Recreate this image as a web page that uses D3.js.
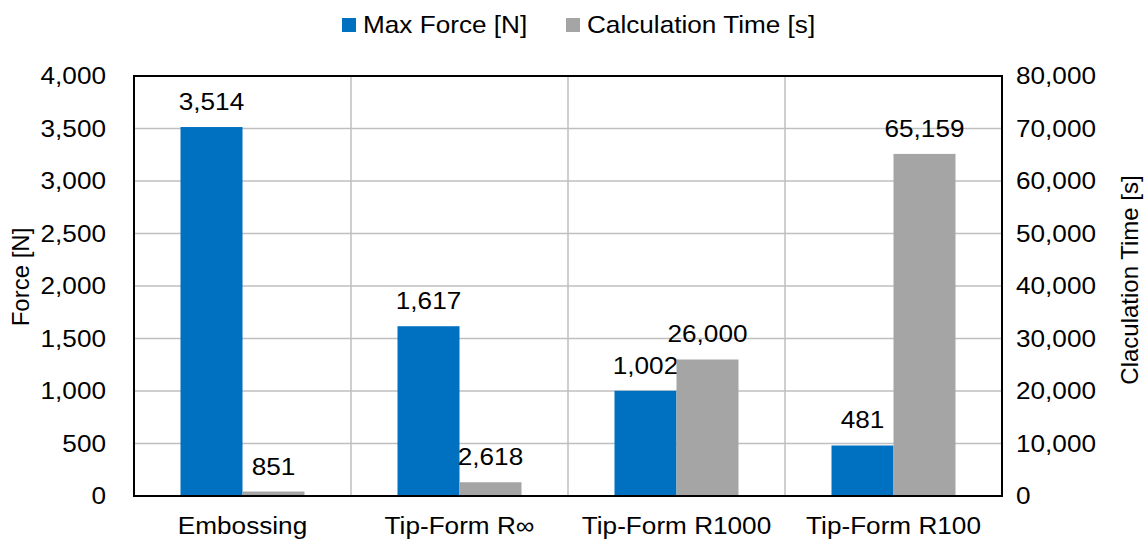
<!DOCTYPE html>
<html><head><meta charset="utf-8">
<script src="https://cdn.jsdelivr.net/npm/d3@7"></script>
<style>
html,body{margin:0;padding:0;background:#fff;}
text{font-family:"Liberation Sans",Arial,sans-serif;fill:#000;}
</style></head>
<body>
<svg id="chart" width="1148" height="543"></svg>
<script>
const categories = ["Embossing", "Tip-Form R\u221E", "Tip-Form R1000", "Tip-Form R100"];
const seriesNames = ["Max Force [N]", "Calculation Time [s]"];
const maxForce = [3514, 1617, 1002, 481];
const calcTime = [851, 2618, 26000, 65159];
const leftTicks = [0, 500, 1000, 1500, 2000, 2500, 3000, 3500, 4000];
const rightTicks = [0, 10000, 20000, 30000, 40000, 50000, 60000, 70000, 80000];
const leftTitle = "Force [N]";
const rightTitle = "Claculation Time [s]";

const m = {left: 134, right: 1002, top: 76, bottom: 496};
const FS = 24;
const SX = 1.09;
const colors = ["#0070C0", "#A5A5A5"];
const fmt = d3.format(",");

const svg = d3.select("#chart");
const x = d3.scaleBand().domain(categories).range([m.left, m.right]).padding(0);
const bw = x.bandwidth() / (2 + 1.5);
const yL = d3.scaleLinear().domain([0, 4000]).range([m.bottom, m.top]);
const yR = d3.scaleLinear().domain([0, 80000]).range([m.bottom, m.top]);

function stretch(sel) {
  sel.each(function() {
    const t = d3.select(this);
    const xv = +t.attr("x") || 0;
    t.attr("transform", `translate(${xv},0) scale(${SX},1) translate(${-xv},0)`);
  });
}

// horizontal grid
svg.append("g").selectAll("line").data(leftTicks.slice(1)).join("line")
  .attr("x1", m.left).attr("x2", m.right)
  .attr("y1", d => yL(d)).attr("y2", d => yL(d))
  .attr("stroke", "#BFBFBF").attr("stroke-width", 1.5);
// vertical grid between categories
svg.append("g").selectAll("line").data(categories.slice(1)).join("line")
  .attr("x1", d => x(d)).attr("x2", d => x(d))
  .attr("y1", m.top).attr("y2", m.bottom)
  .attr("stroke", "#BFBFBF").attr("stroke-width", 1.5);

const series = [maxForce, calcTime];
const scales = [yL, yR];
series.forEach((vals, si) => {
  const g = svg.append("g");
  const bx = (c) => x(c) + bw * 0.75 + si * bw;
  g.selectAll("rect").data(categories).join("rect")
    .attr("x", c => bx(c))
    .attr("width", bw)
    .attr("y", (c, i) => scales[si](vals[i]))
    .attr("height", (c, i) => m.bottom - scales[si](vals[i]))
    .attr("fill", colors[si]);
  g.selectAll("text").data(categories).join("text")
    .attr("x", c => bx(c) + bw / 2)
    .attr("y", (c, i) => scales[si](vals[i]) - 17)
    .attr("text-anchor", "middle")
    .attr("font-size", FS)
    .text((c, i) => fmt(vals[i]))
    .call(stretch);
});

// plot border
svg.append("rect").attr("x", m.left).attr("y", m.top)
  .attr("width", m.right - m.left).attr("height", m.bottom - m.top)
  .attr("fill", "none").attr("stroke", "#000").attr("stroke-width", 2);

function styleAxis(g) {
  g.select(".domain").remove();
  g.selectAll("text").attr("font-size", FS).attr("font-family", "Liberation Sans, Arial, sans-serif").attr("fill", "#000").call(stretch);
}

const gL = svg.append("g").attr("transform", `translate(${m.left},0)`)
  .call(d3.axisLeft(yL).tickValues(leftTicks).tickFormat(fmt).tickSize(0).tickPadding(28));
styleAxis(gL);

const gR = svg.append("g").attr("transform", `translate(${m.right},0)`)
  .call(d3.axisRight(yR).tickValues(rightTicks).tickFormat(fmt).tickSize(0).tickPadding(14));
styleAxis(gR);

const gB = svg.append("g").attr("transform", `translate(0,${m.bottom})`)
  .call(d3.axisBottom(x).tickSize(0).tickPadding(21));
styleAxis(gB);

// axis titles
svg.append("text").attr("transform", `translate(29,277) rotate(-90)`)
  .attr("text-anchor", "middle").attr("font-size", FS).text(leftTitle);
svg.append("text").attr("transform", `translate(1138,280) rotate(-90)`)
  .attr("text-anchor", "middle").attr("font-size", FS).text(rightTitle);

// legend
const leg = svg.append("g");
const legX = [342, 566];
seriesNames.forEach((n, i) => {
  leg.append("rect").attr("x", legX[i]).attr("y", 18).attr("width", 14).attr("height", 14).attr("fill", colors[i]);
  leg.append("text").attr("x", legX[i] + 21).attr("y", 33).attr("font-size", FS).text(n).call(stretch);
});
</script>
</body></html>
